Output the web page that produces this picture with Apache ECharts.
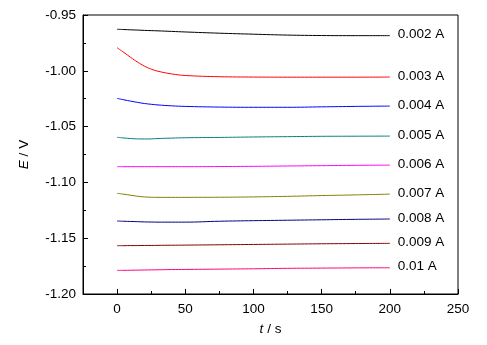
<!DOCTYPE html>
<html><head><meta charset="utf-8">
<script src="https://cdn.jsdelivr.net/npm/echarts@6/dist/echarts.min.js"></script>
<style>html,body{margin:0;padding:0;background:#fff}#c{width:487px;height:345px}</style>
</head><body><div id="c"></div>
<script>
var times = [0,5,10,15,20,25,30,40,50,75,100,125,150,175,200];
var seriesNames = ['0.002 A','0.003 A','0.004 A','0.005 A','0.006 A','0.007 A','0.008 A','0.009 A','0.01 A'];
var seriesColors = ['#000000','#ff0000','#0000ff','#008080','#ff00ff','#808000','#000080','#800000','#ff0080'];
var e002 = [-0.9628,-0.9630,-0.9633,-0.9635,-0.9638,-0.9640,-0.9642,-0.9647,-0.9652,-0.9663,-0.9672,-0.9680,-0.9684,-0.9685,-0.9685];
var e003 = [-0.9793,-0.9836,-0.9880,-0.9922,-0.9958,-0.9985,-1.0004,-1.0028,-1.0042,-1.0053,-1.0056,-1.0057,-1.0057,-1.0057,-1.0056];
var e004 = [-1.0247,-1.0260,-1.0272,-1.0283,-1.0293,-1.0300,-1.0306,-1.0314,-1.0319,-1.0325,-1.0327,-1.0327,-1.0323,-1.0319,-1.0316];
var e005 = [-1.0596,-1.0602,-1.0607,-1.0610,-1.0611,-1.0610,-1.0607,-1.0603,-1.0600,-1.0597,-1.0593,-1.0590,-1.0587,-1.0586,-1.0585];
var e006 = [-1.0859,-1.0859,-1.0859,-1.0859,-1.0859,-1.0859,-1.0859,-1.0859,-1.0859,-1.0858,-1.0856,-1.0853,-1.0850,-1.0847,-1.0845];
var e007 = [-1.1098,-1.1106,-1.1115,-1.1124,-1.1130,-1.1133,-1.1134,-1.1134,-1.1134,-1.1133,-1.1130,-1.1125,-1.1118,-1.1112,-1.1105];
var e008 = [-1.1346,-1.1348,-1.1350,-1.1352,-1.1354,-1.1355,-1.1356,-1.1356,-1.1356,-1.1348,-1.1343,-1.1339,-1.1335,-1.1331,-1.1328];
var e009 = [-1.1567,-1.1567,-1.1566,-1.1566,-1.1565,-1.1565,-1.1564,-1.1563,-1.1562,-1.1559,-1.1556,-1.1553,-1.1550,-1.1548,-1.1546];
var e010 = [-1.1788,-1.1788,-1.1787,-1.1786,-1.1785,-1.1784,-1.1783,-1.1781,-1.1780,-1.1777,-1.1774,-1.1770,-1.1768,-1.1766,-1.1765];
var allValues = [e002,e003,e004,e005,e006,e007,e008,e009,e010];
var xTickLabels = [0,50,100,150,200,250];
var xMinorTicks = [25,75,125,175,225];

var font = 'Liberation Sans, Arial, sans-serif';
var series = allValues.map(function(vals, i){
  return {
    type:'line', name: seriesNames[i], xAxisIndex:0,
    data: times.map(function(t,j){return [t, vals[j]];}),
    showSymbol:false, smooth:0.4,
    lineStyle:{color:seriesColors[i], width:1},
    itemStyle:{color:seriesColors[i]},
    endLabel:{show:true, formatter: seriesNames[i], color:'#000', fontSize:13.5, fontFamily:font, distance:8, offset:[0,-1]},
    silent:true, animation:false
  };
});
var chart = echarts.init(document.getElementById('c'), null, {renderer:'canvas'});
chart.setOption({
  animation:false,
  grid:{left:83, right:29, top:15, bottom:51, show:true, borderColor:'#000', borderWidth:1, containLabel:false},
  xAxis:[{
    type:'value', min:-25, max:250,
    axisLine:{onZero:false, lineStyle:{color:'#000', width:1}},
    axisTick:{inside:true, length:5, lineStyle:{color:'#000'}, customValues:xTickLabels},
    axisLabel:{color:'#000', fontSize:13.5, fontFamily:font, margin:8, customValues:xTickLabels},
    splitLine:{show:false},
    name:'{i|t} / s', nameLocation:'middle', nameGap:28,
    nameTextStyle:{color:'#000', fontSize:13.5, fontFamily:font, rich:{i:{fontStyle:'italic', fontSize:13.5, fontFamily:font, color:'#000'}}}
  },{
    type:'value', min:-25, max:250, position:'bottom',
    axisLine:{show:false, onZero:false},
    axisTick:{inside:true, length:3, lineStyle:{color:'#000'}, customValues:xMinorTicks},
    axisLabel:{show:false, customValues:xMinorTicks},
    splitLine:{show:false}
  }],
  yAxis:{
    type:'value', min:-1.20, max:-0.95, interval:0.05,
    axisLine:{show:true, onZero:false, lineStyle:{color:'#000', width:1}},
    axisTick:{inside:true, length:5, lineStyle:{color:'#000'}},
    minorTick:{show:true, splitNumber:2, length:3, lineStyle:{color:'#000'}},
    axisLabel:{color:'#000', fontSize:13.5, fontFamily:font, margin:7, formatter:function(v){return v.toFixed(2);}},
    splitLine:{show:false}, minorSplitLine:{show:false},
    name:'{i|E} / V', nameLocation:'middle', nameGap:52, nameRotate:90,
    nameTextStyle:{color:'#000', fontSize:13.5, fontFamily:font, rich:{i:{fontStyle:'italic', fontSize:13.5, fontFamily:font, color:'#000'}}}
  },
  series: series
});
</script></body></html>
